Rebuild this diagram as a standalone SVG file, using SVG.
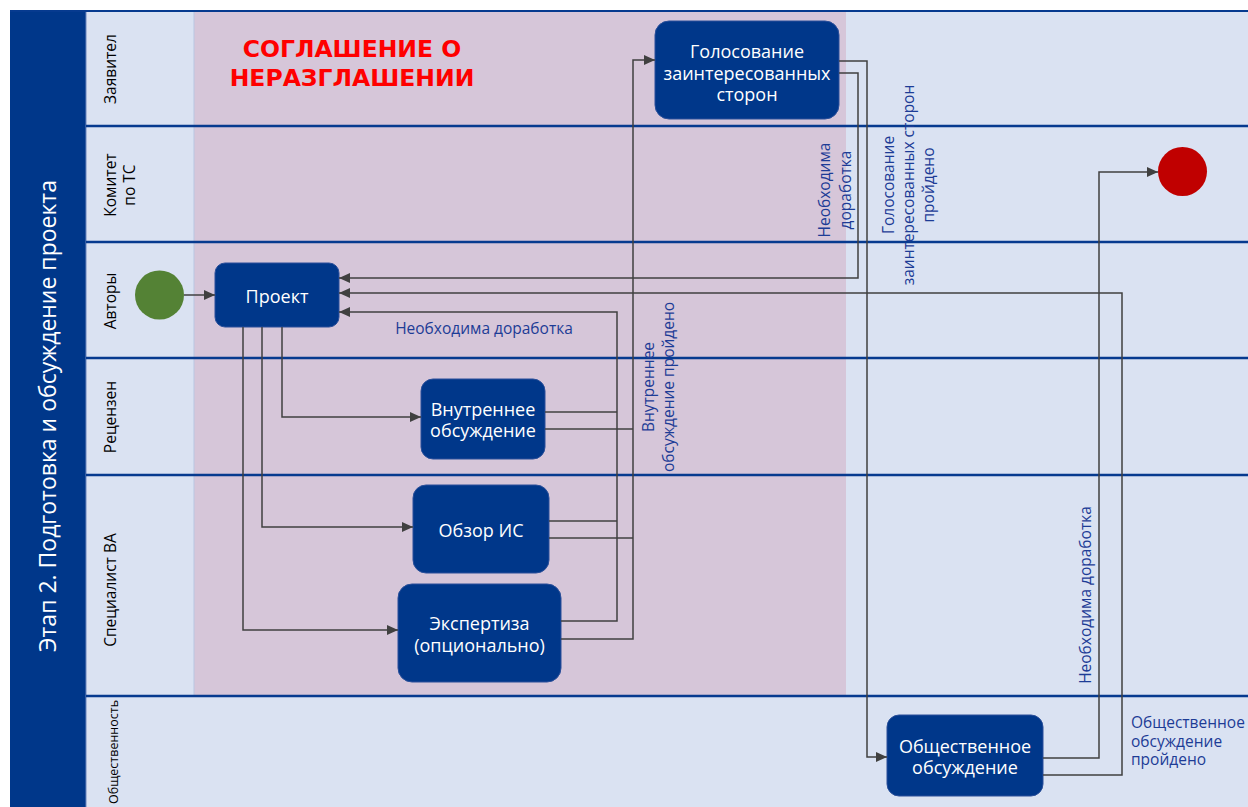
<svg xmlns="http://www.w3.org/2000/svg" width="1248" height="807" viewBox="0 0 1248 807">
<style>
.lane{fill:#dae2f2}
.pink{fill:#d6c6d9}
.sep{stroke:#063a8f;stroke-width:2.5}
.lbl{font-family:"Open Sans","Noto Sans",sans-serif;font-size:15.5px;fill:#000;text-anchor:middle;dominant-baseline:central}
.node rect{fill:#00378a;stroke:#2a4f9a;stroke-width:1}
.node text{font-family:"Open Sans","Noto Sans",sans-serif;font-size:18px;fill:#fff;text-anchor:middle;dominant-baseline:central}
.conn path{fill:none;stroke:#404040;stroke-width:1.5}
.note{font-family:"Open Sans","Noto Sans",sans-serif;font-size:15.5px;fill:#1d3c96;text-anchor:middle;dominant-baseline:central}
</style>
<defs>
<marker id="arr" markerUnits="userSpaceOnUse" markerWidth="11" markerHeight="10" refX="11" refY="5" orient="auto">
<path d="M0,0 L11,5 L0,10 z" fill="#404040"/>
</marker>
</defs>
<rect x="0" y="0" width="1248" height="807" fill="#ffffff"/>
<g id="background">
<rect class="lane" x="86" y="11" width="1162" height="796"/>
<rect class="pink" x="194" y="12" width="652" height="684"/>
<rect x="10" y="11" width="76" height="796" fill="#00378a"/>
<line x1="86" y1="12" x2="86" y2="807" stroke="#6d86bd" stroke-width="1"/>
<line x1="194" y1="12" x2="194" y2="696" stroke="#b9c6e2" stroke-width="1"/>
<line x1="10" y1="11" x2="1248" y2="11" stroke="#063a8f" stroke-width="2"/>
<line class="sep" x1="86" y1="126" x2="1248" y2="126"/>
<line class="sep" x1="86" y1="242" x2="1248" y2="242"/>
<line class="sep" x1="86" y1="358" x2="1248" y2="358"/>
<line class="sep" x1="86" y1="475" x2="1248" y2="475"/>
<line class="sep" x1="86" y1="696" x2="1248" y2="696"/>
<text x="47" y="416" transform="rotate(-90 47 416)" font-family="'Open Sans','Noto Sans',sans-serif" font-size="23" fill="#ffffff" text-anchor="middle" dominant-baseline="central">Этап 2. Подготовка и обсуждение проекта</text>
</g>
<g id="lane-labels">
<text class="lbl" x="110" y="69" transform="rotate(-90 110 69)">Заявител</text>
<text class="lbl" transform="rotate(-90 120 185)"><tspan x="120" y="175">Комитет</tspan><tspan x="120" y="194">по ТС</tspan></text>
<text class="lbl" x="110" y="301" transform="rotate(-90 110 301)">Авторы</text>
<text class="lbl" x="110" y="417" transform="rotate(-90 110 417)">Рецензен</text>
<text class="lbl" x="110" y="590" transform="rotate(-90 110 590)">Специалист ВА</text>
<text class="lbl" x="113" y="752" style="font-size:12.5px" transform="rotate(-90 113 752)">Общественность</text>
</g>
<g id="title">
<text font-family="'DejaVu Sans',sans-serif" font-weight="bold" font-size="23.5" fill="#ff0000" text-anchor="middle"><tspan x="352" y="57">СОГЛАШЕНИЕ О</tspan><tspan x="352" y="86">НЕРАЗГЛАШЕНИИ</tspan></text>
</g>
<g id="start"><circle cx="159.5" cy="295" r="24.5" fill="#548235"/></g>
<g id="end"><circle cx="1182.5" cy="171.5" r="24.5" fill="#c00000"/></g>
<g id="n-project" class="node"><rect x="215" y="263" width="124" height="64" rx="10"/><text x="277" y="296">Проект</text></g>
<g id="n-vote" class="node"><rect x="655" y="21" width="184" height="98" rx="14"/><text x="747"><tspan x="747" y="51">Голосование</tspan><tspan x="747" y="72.5">заинтересованных</tspan><tspan x="747" y="94">сторон</tspan></text></g>
<g id="n-internal" class="node"><rect x="421" y="379" width="124" height="80" rx="12"/><text><tspan x="483" y="409">Внутреннее</tspan><tspan x="483" y="430">обсуждение</tspan></text></g>
<g id="n-review" class="node"><rect x="413" y="485" width="136" height="88" rx="13"/><text x="481" y="530">Обзор ИС</text></g>
<g id="n-expert" class="node"><rect x="398" y="584" width="163" height="98" rx="14"/><text><tspan x="479.5" y="623">Экспертиза</tspan><tspan x="479.5" y="645">(опционально)</tspan></text></g>
<g id="n-public" class="node"><rect x="887" y="715" width="156" height="81" rx="12"/><text><tspan x="965" y="746">Общественное</tspan><tspan x="965" y="767">обсуждение</tspan></text></g>
<g id="connectors" class="conn">
<path d="M184,295 H215" marker-end="url(#arr)"/>
<path d="M282,327 V417 H421" marker-end="url(#arr)"/>
<path d="M262,327 V527 H413" marker-end="url(#arr)"/>
<path d="M243,327 V630 H398" marker-end="url(#arr)"/>
<path d="M545,412 H617"/>
<path d="M545,429 H633"/>
<path d="M549,521 H617"/>
<path d="M549,538 H633"/>
<path d="M561,621 H617 V312 H339" marker-end="url(#arr)"/>
<path d="M561,639 H633 V60 H655" marker-end="url(#arr)"/>
<path d="M839,61 H867 V757 H887" marker-end="url(#arr)"/>
<path d="M839,73 H858 V278 H339" marker-end="url(#arr)"/>
<path d="M1043,758 H1099 V172 H1158" marker-end="url(#arr)"/>
<path d="M1043,775 H1122 V293 H339" marker-end="url(#arr)"/>
</g>
<g id="labels">
<text class="note" x="484" y="328">Необходима доработка</text>
<text class="note" transform="rotate(-90 658 387)"><tspan x="658" y="377">Внутреннее</tspan><tspan x="658" y="397">обсуждение пройдено</tspan></text>
<text class="note" transform="rotate(-90 835 190)"><tspan x="835" y="179">Необходима</tspan><tspan x="835" y="200">доработка</tspan></text>
<text class="note" transform="rotate(-90 908 185)"><tspan x="908" y="165">Голосование</tspan><tspan x="908" y="185">заинтересованных сторон</tspan><tspan x="908" y="205">пройдено</tspan></text>
<text class="note" x="1085" y="595" transform="rotate(-90 1085 595)">Необходима доработка</text>
<text class="note" style="text-anchor:start"><tspan x="1131" y="722">Общественное</tspan><tspan x="1131" y="740.5">обсуждение</tspan><tspan x="1131" y="759">пройдено</tspan></text>
</g>
</svg>
